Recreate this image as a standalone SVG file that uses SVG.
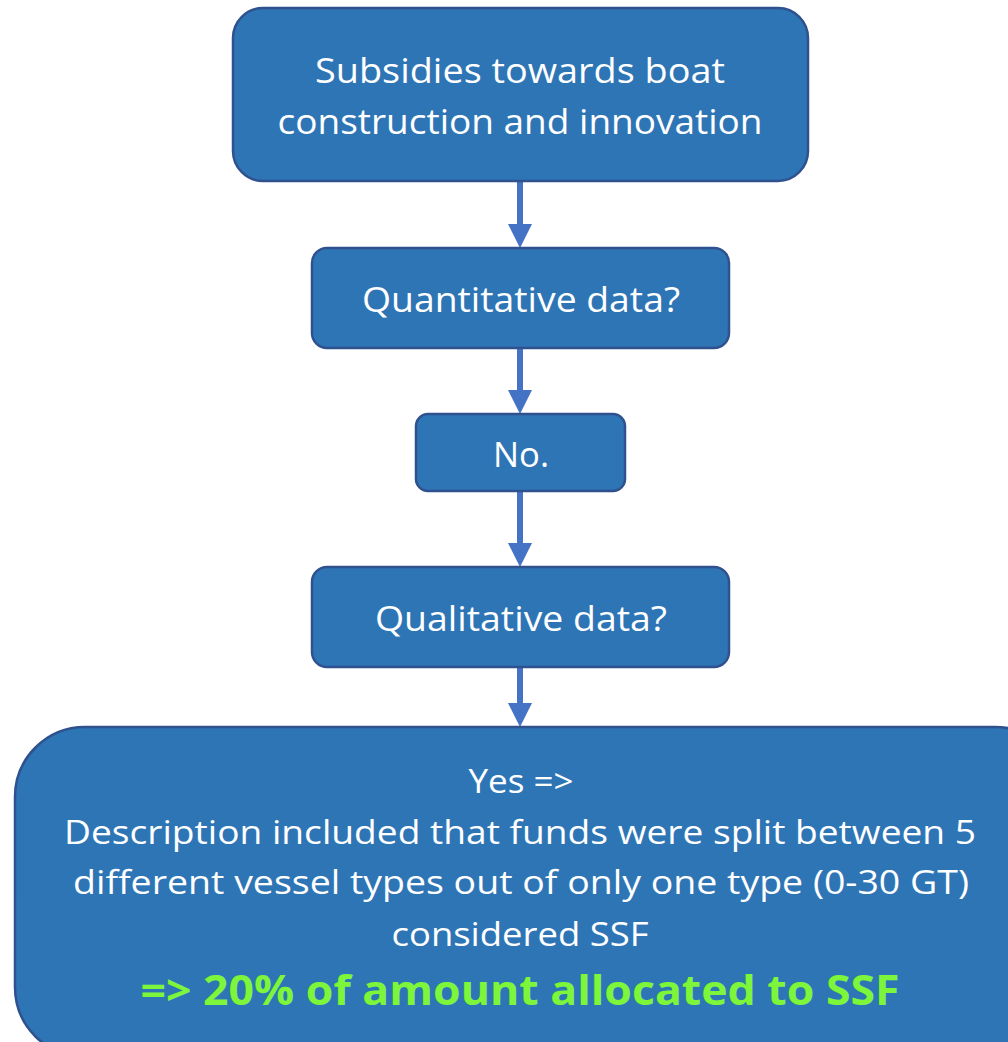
<svg xmlns="http://www.w3.org/2000/svg" width="1008" height="1042" viewBox="0 0 1008 1042">
<style>
.box{fill:#2E75B6;stroke:#2F528F;stroke-width:2.5}
.t{font-family:"Open Sans","Noto Sans","Liberation Sans",sans-serif;fill:#FFFFFF;text-anchor:middle}
.g{font-family:"Open Sans","Noto Sans","Liberation Sans",sans-serif;fill:#7CF53A;font-weight:bold;text-anchor:middle}
.c{stroke:#4472C4;stroke-width:6;fill:none}
.h{fill:#4472C4}
</style>
<rect width="1008" height="1042" fill="#FFFFFF"/>
<g id="connectors">
<line class="c" x1="520" y1="182" x2="520" y2="226"/><polygon class="h" points="508,224 532,224 520,248"/>
<line class="c" x1="520" y1="349" x2="520" y2="392"/><polygon class="h" points="508,390 532,390 520,414"/>
<line class="c" x1="520" y1="492" x2="520" y2="545"/><polygon class="h" points="508,543 532,543 520,567"/>
<line class="c" x1="520" y1="668" x2="520" y2="705"/><polygon class="h" points="508,703 532,703 520,727"/>
</g>
<g id="n1">
<rect class="box" x="233" y="8" width="575" height="173" rx="30"/>
<text class="t" x="520" y="83" font-size="35" textLength="410" lengthAdjust="spacingAndGlyphs">Subsidies towards boat</text>
<text class="t" x="520" y="134" font-size="35" textLength="485" lengthAdjust="spacingAndGlyphs">construction and innovation</text>
</g>
<g id="n2">
<rect class="box" x="312" y="248" width="417" height="100" rx="15"/>
<text class="t" x="521" y="312" font-size="35" textLength="318" lengthAdjust="spacingAndGlyphs">Quantitative data?</text>
</g>
<g id="n3">
<rect class="box" x="416" y="414" width="209" height="77" rx="12"/>
<text class="t" x="521" y="467" font-size="35" textLength="56" lengthAdjust="spacingAndGlyphs">No.</text>
</g>
<g id="n4">
<rect class="box" x="312" y="567" width="417" height="100" rx="15"/>
<text class="t" x="521" y="631" font-size="35" textLength="292" lengthAdjust="spacingAndGlyphs">Qualitative data?</text>
</g>
<g id="n5">
<rect class="box" x="15" y="727" width="1050" height="330" rx="70"/>
<text class="t" x="521" y="793" font-size="32" textLength="105" lengthAdjust="spacingAndGlyphs">Yes =&gt;</text>
<text class="t" x="520" y="844" font-size="32" textLength="912" lengthAdjust="spacingAndGlyphs">Description included that funds were split between 5</text>
<text class="t" x="521" y="894" font-size="32" textLength="896" lengthAdjust="spacingAndGlyphs">different vessel types out of only one type (0-30 GT)</text>
<text class="t" x="520" y="946" font-size="32" textLength="257" lengthAdjust="spacingAndGlyphs">considered SSF</text>
<text class="g" x="520" y="1005" font-size="42" textLength="759" lengthAdjust="spacingAndGlyphs">=&gt; 20% of amount allocated to SSF</text>
</g>
</svg>
